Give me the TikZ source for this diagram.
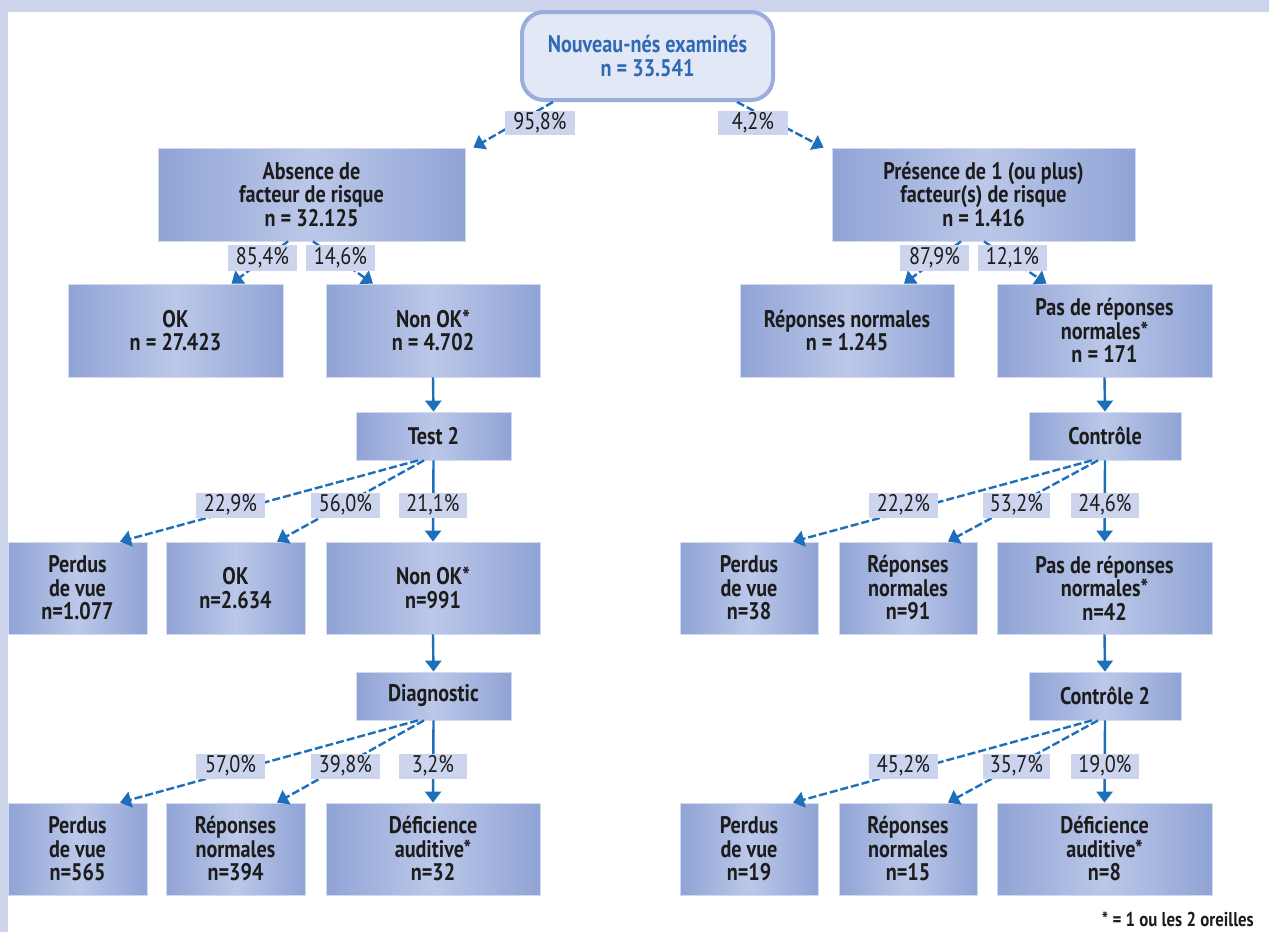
\documentclass[tikz,border=0pt]{standalone}
\usepackage{fontspec}
\setmainfont{PT Sans}[FakeStretch=0.84]
\usetikzlibrary{arrows.meta,calc}
\definecolor{framecol}{HTML}{CCD4EC}
\definecolor{boxdark}{HTML}{8FA3D5}
\definecolor{boxlight}{HTML}{BCC8E9}
\definecolor{boxline}{HTML}{D3DAF0}
\definecolor{pctfill}{HTML}{CDD5EE}
\definecolor{arrowblue}{HTML}{1E6FBA}
\definecolor{txt}{HTML}{1C1C1C}
\definecolor{toptxt}{HTML}{2E6BB3}
\definecolor{topfill}{HTML}{E3E8F6}
\definecolor{topline}{HTML}{9AAEDC}
\begin{document}
\begin{tikzpicture}[x=1pt,y=-1pt,
  box/.style={draw=boxline, line width=0.8pt, left color=boxdark, right color=boxdark, middle color=boxlight,
    inner sep=0pt, align=center, text=txt, font=\bfseries\fontsize{24}{23.5}\selectfont},
  topbox/.style={draw=topline, line width=4pt, fill=topfill, rounded corners=22pt, inner sep=0pt,
    align=center, text=toptxt, font=\bfseries\fontsize{24}{23.5}\selectfont},
  pct/.style={fill=pctfill, inner sep=0pt, minimum width=69pt, minimum height=25pt, text=txt,
    font=\fontsize{24}{24}\selectfont},
  conn/.style={draw=arrowblue, line width=2.4pt, -{Triangle[width=16pt,length=11pt]}},
  dconn/.style={conn, dash pattern=on 8pt off 3pt}]
\useasboundingbox (0,0) rectangle (1269,932);
\fill[framecol] (0,0) rectangle (1269,932);
\fill[white] (8,12) rectangle (1269,932);

% nodes
\node[topbox, minimum width=251pt, minimum height=88pt] (top) at (647.5,56) {Nouveau-nés examinés\\n = 33.541};
\node[box, minimum width=307pt, minimum height=93pt] (abs) at (311.5,194.5) {Absence de\\facteur de risque\\n = 32.125};
\node[box, minimum width=303pt, minimum height=93pt] (pres) at (983.5,194.5) {Présence de 1 (ou plus)\\facteur(s) de risque\\n = 1.416};
\node[box, minimum width=215pt, minimum height=93pt] (ok1) at (175.5,330.5) {OK\\n = 27.423};
\node[box, minimum width=214pt, minimum height=93pt] (nonok1) at (433,330.5) {Non OK*\\n = 4.702};
\node[box, minimum width=214pt, minimum height=93pt] (repn1) at (847,330.5) {Réponses normales\\n = 1.245};
\node[box, minimum width=215pt, minimum height=93pt] (pasrep1) at (1104.5,330.5) {Pas de réponses\\normales*\\n = 171};
\node[box, minimum width=155pt, minimum height=48pt] (test2) at (433.5,436) {Test 2};
\node[box, minimum width=152pt, minimum height=48pt] (ctrl) at (1105,436) {Contrôle};
\node[box, minimum width=139pt, minimum height=92pt] (perdus1) at (77.5,588) {Perdus\\de vue\\n=1.077};
\node[box, minimum width=139pt, minimum height=92pt] (ok2) at (235.5,588) {OK\\n=2.634};
\node[box, minimum width=214pt, minimum height=92pt] (nonok2) at (433,588) {Non OK*\\n=991};
\node[box, minimum width=138pt, minimum height=92pt] (perdusR1) at (749,588) {Perdus\\de vue\\n=38};
\node[box, minimum width=138pt, minimum height=92pt] (repR1) at (908,588) {Réponses\\normales\\n=91};
\node[box, minimum width=215pt, minimum height=92pt] (pasrep2) at (1104.5,588) {Pas de réponses\\normales*\\n=42};
\node[box, minimum width=155pt, minimum height=48pt] (diag) at (433.5,696) {Diagnostic};
\node[box, minimum width=152pt, minimum height=48pt] (ctrl2) at (1105,696) {Contrôle 2};
\node[box, minimum width=139pt, minimum height=92pt] (perdus2) at (77.5,849) {Perdus\\de vue\\n=565};
\node[box, minimum width=139pt, minimum height=92pt] (rep2) at (235.5,849) {Réponses\\normales\\n=394};
\node[box, minimum width=214pt, minimum height=92pt] (def1) at (433,849) {Déficience\\auditive*\\n=32};
\node[box, minimum width=138pt, minimum height=92pt] (perdusR2) at (749,849) {Perdus\\de vue\\n=19};
\node[box, minimum width=138pt, minimum height=92pt] (repR2) at (908,849) {Réponses\\normales\\n=15};
\node[box, minimum width=215pt, minimum height=92pt] (def2) at (1104.5,849) {Déficience\\auditive*\\n=8};

% connectors
\draw[dconn] ([xshift=-94.5pt]top.south) -- ([xshift=8pt]abs.north east);
\draw[dconn] ([xshift=89.5pt]top.south) -- ([xshift=-8pt]pres.north west);
\draw[dconn] ([xshift=-23.5pt]abs.south) -- ([xshift=56pt]ok1.north);
\draw[dconn] ([xshift=1.5pt]abs.south) -- ([xshift=-60pt]nonok1.north);
\draw[dconn] ([xshift=-22.5pt]pres.south) -- ([xshift=57pt]repn1.north);
\draw[dconn] ([xshift=0.5pt]pres.south) -- ([xshift=-58pt]pasrep1.north);
\draw[conn] (nonok1.south) -- (test2.north);
\draw[conn] (test2.south) -- (nonok2.north);
\draw[dconn] ([xshift=-15.5pt]test2.south) -- ([xshift=42.5pt]perdus1.north);
\draw[dconn] ([xshift=-9.5pt]test2.south) -- ([xshift=41.5pt]ok2.north);
\draw[conn] (pasrep1.south) -- (ctrl.north);
\draw[conn] (ctrl.south) -- (pasrep2.north);
\draw[dconn] ([xshift=-13pt]ctrl.south) -- ([xshift=44pt]perdusR1.north);
\draw[dconn] ([xshift=-7pt]ctrl.south) -- ([xshift=40pt]repR1.north);
\draw[conn] (nonok2.south) -- (diag.north);
\draw[conn] (diag.south) -- (def1.north);
\draw[dconn] ([xshift=-15.5pt]diag.south) -- ([xshift=42.5pt]perdus2.north);
\draw[dconn] ([xshift=-9.5pt]diag.south) -- ([xshift=41.5pt]rep2.north);
\draw[conn] (pasrep2.south) -- (ctrl2.north);
\draw[conn] (ctrl2.south) -- (def2.north);
\draw[dconn] ([xshift=-13pt]ctrl2.south) -- ([xshift=44pt]perdusR2.north);
\draw[dconn] ([xshift=-7pt]ctrl2.south) -- ([xshift=40pt]repR2.north);

% percentage labels
\node[pct, minimum width=70pt, minimum height=24pt] (p958) at (540,123) {95,8\%};
\node[pct, minimum width=70pt, minimum height=24pt] (p42) at (753,123) {4,2\%};
\node[pct, minimum height=26pt] (p854) at (262.5,258) {85,4\%};
\node[pct, minimum height=26pt] (p146) at (340.5,258) {14,6\%};
\node[pct, minimum height=26pt] (p879) at (934.5,258) {87,9\%};
\node[pct, minimum height=26pt] (p121) at (1012.5,258) {12,1\%};
\node[pct] (p229) at (230.5,505) {22,9\%};
\node[pct] (p560) at (345.5,505) {56,0\%};
\node[pct, minimum width=68pt] (p211) at (433,505) {21,1\%};
\node[pct] (p222) at (903.5,505) {22,2\%};
\node[pct, minimum width=67pt] (p532) at (1016.5,505) {53,2\%};
\node[pct, minimum width=68pt] (p246) at (1105,505) {24,6\%};
\node[pct] (p570) at (230.5,766) {57,0\%};
\node[pct] (p398) at (345.5,766) {39,8\%};
\node[pct, minimum width=68pt] (p32) at (433,766) {3,2\%};
\node[pct] (p452) at (903.5,766) {45,2\%};
\node[pct, minimum width=67pt] (p357) at (1016.5,766) {35,7\%};
\node[pct, minimum width=68pt] (p190) at (1105,766) {19,0\%};

\node[anchor=east, inner sep=0pt, text=txt, font=\bfseries\fontsize{20}{20}\selectfont] (foot) at (1254,919) {* = 1 ou les 2 oreilles};
\end{tikzpicture}
\end{document}
